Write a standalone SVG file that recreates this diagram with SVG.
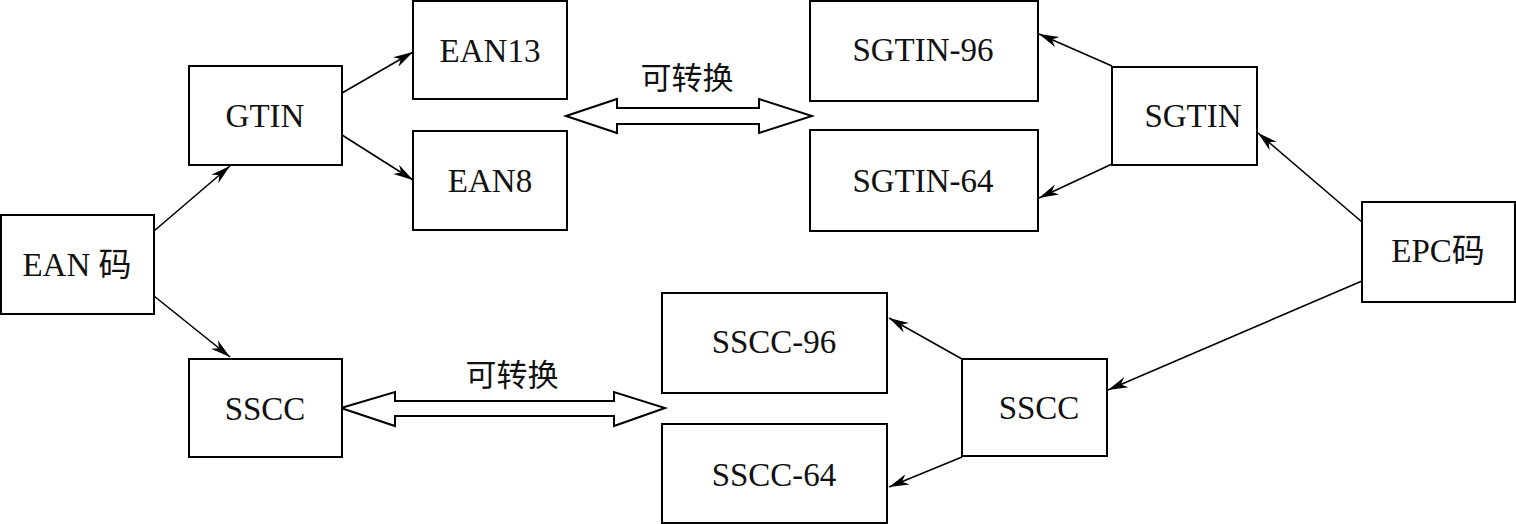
<svg xmlns="http://www.w3.org/2000/svg" width="1516" height="524" viewBox="0 0 1516 524">
<style>
.box{fill:#fff;stroke:#000;stroke-width:2}
.t{font-family:"Liberation Serif","Noto Sans CJK SC",serif;font-size:33px;fill:#111;text-anchor:middle}
.c{stroke:#000;stroke-width:1.6;fill:none;marker-end:url(#ah)}
.dbl{fill:#fff;stroke:#000;stroke-width:2;stroke-linejoin:miter}
.lbl{font-family:"Noto Sans CJK SC","Liberation Serif",serif;font-size:31px;fill:#111;text-anchor:middle}
</style>
<defs>
<marker id="ah" markerUnits="userSpaceOnUse" markerWidth="22" markerHeight="12" refX="20" refY="5.5" orient="auto" viewBox="0 0 22 11">
<path d="M0,0 L20,5.5 L0,11 L6,5.5 z" fill="#000"/>
</marker>
</defs>
<rect width="1516" height="524" fill="#fff"/>
<g id="connectors">
<line class="c" x1="154" y1="231" x2="230" y2="166"/>
<line class="c" x1="154" y1="296" x2="230" y2="357"/>
<line class="c" x1="342" y1="93" x2="413" y2="52"/>
<line class="c" x1="342" y1="135" x2="413" y2="180"/>
<line class="c" x1="1112" y1="66" x2="1039" y2="34"/>
<line class="c" x1="1112" y1="164" x2="1039" y2="198"/>
<line class="c" x1="1362" y1="222" x2="1258" y2="133"/>
<line class="c" x1="1362" y1="281" x2="1108" y2="390"/>
<line class="c" x1="962" y1="359" x2="889" y2="318"/>
<line class="c" x1="962" y1="457" x2="889" y2="487"/>
<polygon class="dbl" points="566,116 617,99 617,108 759,108 759,99 812,116 759,133 759,124 617,124 617,133"/>
<polygon class="dbl" points="341,408 395,392 395,401 614,401 614,392 665,408 614,426 614,416 395,416 395,426"/>
<text class="lbl" x="687" y="89">可转换</text>
<text class="lbl" x="512" y="386">可转换</text>
</g>
<g id="ean"><rect class="box" x="1" y="215" width="153" height="99"/><text class="t" x="77" y="276">EAN 码</text></g>
<g id="gtin"><rect class="box" x="189" y="66" width="153" height="99"/><text class="t" x="265" y="127">GTIN</text></g>
<g id="sscc-l"><rect class="box" x="189" y="359" width="153" height="98"/><text class="t" x="265" y="420">SSCC</text></g>
<g id="ean13"><rect class="box" x="413" y="1" width="154" height="98"/><text class="t" x="490" y="62">EAN13</text></g>
<g id="ean8"><rect class="box" x="413" y="131" width="154" height="99"/><text class="t" x="490" y="192">EAN8</text></g>
<g id="sgtin96"><rect class="box" x="810" y="1" width="228" height="100"/><text class="t" x="923" y="61">SGTIN-96</text></g>
<g id="sgtin64"><rect class="box" x="810" y="130" width="228" height="101"/><text class="t" x="923" y="192">SGTIN-64</text></g>
<g id="sgtin"><rect class="box" x="1112" y="67" width="145" height="98"/><text class="t" x="1193" y="127">SGTIN</text></g>
<g id="epc"><rect class="box" x="1362" y="202" width="153" height="100"/><text class="t" x="1438" y="262">EPC码</text></g>
<g id="sscc96"><rect class="box" x="662" y="293" width="225" height="100"/><text class="t" x="774" y="353">SSCC-96</text></g>
<g id="sscc64"><rect class="box" x="662" y="424" width="225" height="99"/><text class="t" x="774" y="486">SSCC-64</text></g>
<g id="sscc-r"><rect class="box" x="962" y="359" width="145" height="97"/><text class="t" x="1039" y="419">SSCC</text></g>
</svg>
